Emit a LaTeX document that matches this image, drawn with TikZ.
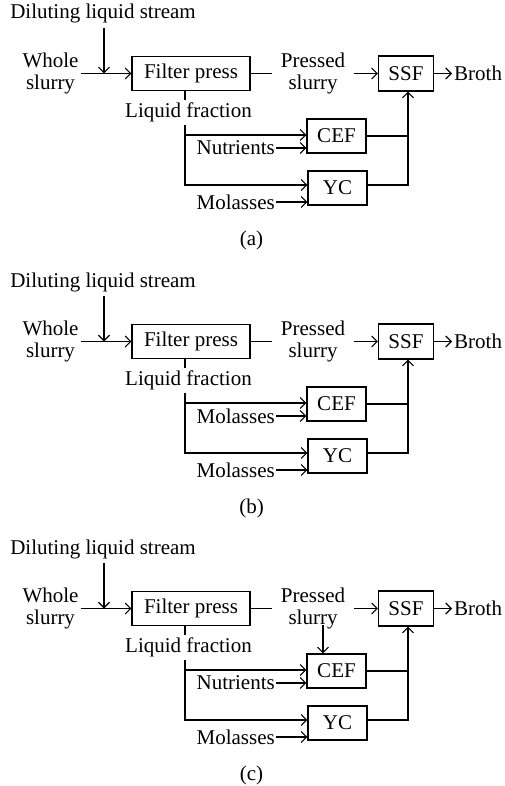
\documentclass[tikz,border=0pt]{standalone}
\usepackage{fontspec}
\setmainfont{Liberation Serif}
\usetikzlibrary{arrows.meta,calc}
\newcommand\figfont{\fontsize{21}{22}\selectfont}
\tikzset{
  ln/.style={line width=1.1pt},
  arr/.style={ln, -{Straight Barb[length=5.5pt,width=11pt]}},
  boxnode/.style={draw, line width=1.1pt, inner sep=0pt, font=\figfont},
  txt/.style={font=\figfont, inner sep=2pt},
}
\newcommand\drawpanel[4]{%
  \begin{scope}[yshift=#2]
    \node[txt, anchor=base, inner ysep=4pt] (#1dil) at (103,19) {Diluting liquid stream};
    \coordinate (#1j) at (104,73.5);
    \coordinate (#1lx) at (185,0);
    \coordinate (#1vx) at (408,0);
    \node[txt, align=center] (#1ws) at (50.5,73.5) {Whole\\slurry};
    \node[boxnode, minimum width=118pt, minimum height=34pt] (#1fp) at (191,73.5) {Filter press};
    \node[txt, align=center, inner xsep=9pt] (#1ps) at (313,73.5) {Pressed\\slurry};
    \node[boxnode, minimum width=55pt, minimum height=35pt] (#1ssf) at (406,73.5) {SSF};
    \node[txt, anchor=west] (#1broth) at (452,73.5) {Broth};
    \node[txt, anchor=base, inner ysep=3pt] (#1lf) at (188.5,117.5) {Liquid fraction};
    \node[boxnode, minimum width=59pt, minimum height=34pt] (#1cef) at (336.5,136) {CEF};
    \node[boxnode, minimum width=59pt, minimum height=34pt] (#1yc) at (337.5,188) {YC};
    \node[txt, anchor=east, inner xsep=1pt] (#1nut) at (276,148) {#3};
    \node[txt, anchor=east, inner xsep=1pt] (#1mol) at (276,202) {Molasses};
    \node[txt] (#1lab) at (251.5,240) {#4};
    \draw[arr] (#1dil.south -| #1j) -- (#1j);
    \draw[arr] (#1ws.east) -- (#1fp.west);
    \draw[ln] (#1fp.east) -- (#1ps.west);
    \draw[arr] (#1ps.east) -- (#1ssf.west);
    \draw[arr] (#1ssf.east) -- (#1broth.west);
    \draw[ln] (#1fp.south -| #1lx) -- (#1lf.north -| #1lx);
    \draw[arr] (#1lf.south -| #1lx) |- ([yshift=1pt]#1cef.west);
    \draw[arr] (#1lf.south -| #1lx) |- ([yshift=3pt]#1yc.west);
    \draw[arr] (#1nut.east) -- (#1nut.east -| #1cef.west);
    \draw[arr] (#1mol.east) -- (#1mol.east -| #1yc.west);
    \draw[ln] (#1cef.east) -- (#1cef.east -| #1vx);
    \draw[arr] ([yshift=3pt]#1yc.east) -| (#1ssf.south -| #1vx);
  \end{scope}}
\begin{document}
\begin{tikzpicture}[x=1pt,y=-1pt]
  \useasboundingbox (0,0) rectangle (504,786);
  \drawpanel{a}{0pt}{Nutrients}{(a)}
  \drawpanel{b}{-268pt}{Molasses}{(b)}
  \drawpanel{c}{-535pt}{Nutrients}{(c)}
  \begin{scope}[yshift=-535pt]
    \coordinate (cpt) at (323,90);
    \draw[arr] (cpt) -- (cpt |- ccef.north);
  \end{scope}
\end{tikzpicture}
\end{document}
